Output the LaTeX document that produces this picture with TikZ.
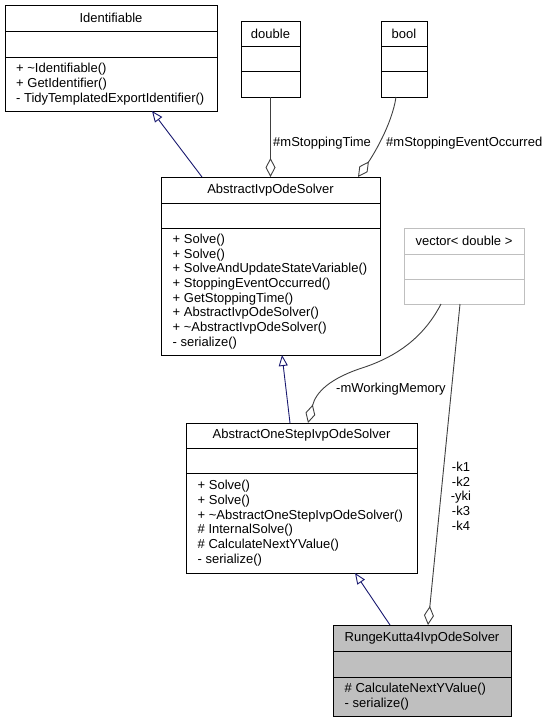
\documentclass[tikz,border=0pt]{standalone}
\usepackage{fontspec}
\setmainfont{Liberation Sans}
\usetikzlibrary{arrows.meta,calc}
\definecolor{inhblue}{RGB}{25,25,112}
\definecolor{aggray}{RGB}{64,64,64}
\definecolor{lgray}{RGB}{191,191,191}
\begin{document}
\begin{tikzpicture}[x=1pt,y=-1pt,
  cls/.style={draw=black, line width=1pt, inner sep=0pt, outer sep=0pt, anchor=north west, fill=white},
  divl/.style={draw=black, line width=1pt},
  ttl/.style={font=\fontsize{13}{14.67}\selectfont, inner sep=0pt},
  mth/.style={font=\fontsize{13}{14.67}\selectfont, inner sep=0pt, align=left, anchor=west},
  lbl/.style={font=\fontsize{13}{14.67}\selectfont, inner sep=0pt},
  inh/.style={draw=inhblue, line width=0.9pt, -{Triangle[open, length=11pt, width=9pt, fill=white]}},
  agg/.style={draw=aggray, line width=0.9pt, -{Diamond[open, length=19pt, width=10pt, fill=white]}},
]
\useasboundingbox[fill=white] (0,0) rectangle (549,723);

% Identifiable
\node[cls, minimum width=212pt, minimum height=106pt] (ident) at (5,5) {};
\draw[divl] (5,31) -- (217,31) (5,57) -- (217,57);
\node[ttl] (identT) at (111,18) {Identifiable};
\node[mth] (identM) at (16,84) {+ \textasciitilde Identifiable()\\+ GetIdentifier()\\- TidyTemplatedExportIdentifier()};

% double
\node[cls, minimum width=59pt, minimum height=76pt] (dbl) at (241,21) {};
\draw[divl] (241,46) -- (300,46) (241,71) -- (300,71);
\node[ttl] (dblT) at (270.5,33.5) {double};

% bool
\node[cls, minimum width=46pt, minimum height=76pt] (bool) at (381,21) {};
\draw[divl] (381,46) -- (427,46) (381,71) -- (427,71);
\node[ttl] (boolT) at (404,33.5) {bool};

% AbstractIvpOdeSolver
\node[cls, minimum width=219pt, minimum height=178pt] (aivp) at (161,177) {};
\draw[divl] (161,203) -- (380,203) (161,228) -- (380,228);
\node[ttl] (aivpT) at (270.5,190) {AbstractIvpOdeSolver};
\node[mth] (aivpM) at (172.5,291.5) {+ Solve()\\+ Solve()\\+ SolveAndUpdateStateVariable()\\+ StoppingEventOccurred()\\+ GetStoppingTime()\\+ AbstractIvpOdeSolver()\\+ \textasciitilde AbstractIvpOdeSolver()\\- serialize()};

% vector< double >
\node[cls, draw=lgray, minimum width=120pt, minimum height=76pt] (vec) at (404,228) {};
\draw[divl, draw=lgray] (404,254) -- (524,254) (404,279) -- (524,279);
\node[ttl] (vecT) at (464,241) {vector< double >};

% AbstractOneStepIvpOdeSolver
\node[cls, minimum width=231pt, minimum height=150pt] (aone) at (186,423) {};
\draw[divl] (186,448) -- (417,448) (186,473) -- (417,473);
\node[ttl] (aoneT) at (301.5,435.5) {AbstractOneStepIvpOdeSolver};
\node[mth] (aoneM) at (197.5,523) {+ Solve()\\+ Solve()\\+ \textasciitilde AbstractOneStepIvpOdeSolver()\\\# InternalSolve()\\\# CalculateNextYValue()\\- serialize()};

% RungeKutta4IvpOdeSolver
\node[cls, fill=lgray, minimum width=178pt, minimum height=91pt] (rk) at (333,625) {};
\draw[divl] (333,651) -- (511,651) (333,677) -- (511,677);
\node[ttl] (rkT) at (422,638) {RungeKutta4IvpOdeSolver};
\node[mth] (rkM) at (344.5,696.5) {\# CalculateNextYValue()\\- serialize()};

% inheritance
\draw[inh] ([xshift=41pt]aivp.north west) -- ([xshift=147pt]ident.south west);
\draw[inh] ([xshift=104pt]aone.north west) -- ([xshift=121pt]aivp.south west);
\draw[inh] ([xshift=57pt]rk.north west) -- ([xshift=169pt]aone.south west);

% aggregation
\draw[agg] (dbl.south) -- (dbl.south |- aivp.north);
\draw[agg] ([xshift=15pt]bool.south west) .. controls (392,125) and (372,157) .. ([xshift=197pt]aivp.north west);
\draw[agg] ([xshift=37pt]vec.south west) .. controls (425,335) and (400,355) .. (365,367) .. controls (330,378) and (316,392) .. ([xshift=122pt]aone.north west);
\draw[agg] ([xshift=56pt]vec.south west) -- ([xshift=95pt]rk.north west);

% labels
\node[lbl, anchor=west] (lblT) at (273,143) {\#mStoppingTime};
\node[lbl, anchor=west] (lblE) at (386,143) {\#mStoppingEventOccurred};
\node[lbl, anchor=west] (lblW) at (336,389) {-mWorkingMemory};
\node[lbl, align=center] (lblK) at (461,496) {-k1\\-k2\\-yki\\-k3\\-k4};
\end{tikzpicture}
\end{document}
